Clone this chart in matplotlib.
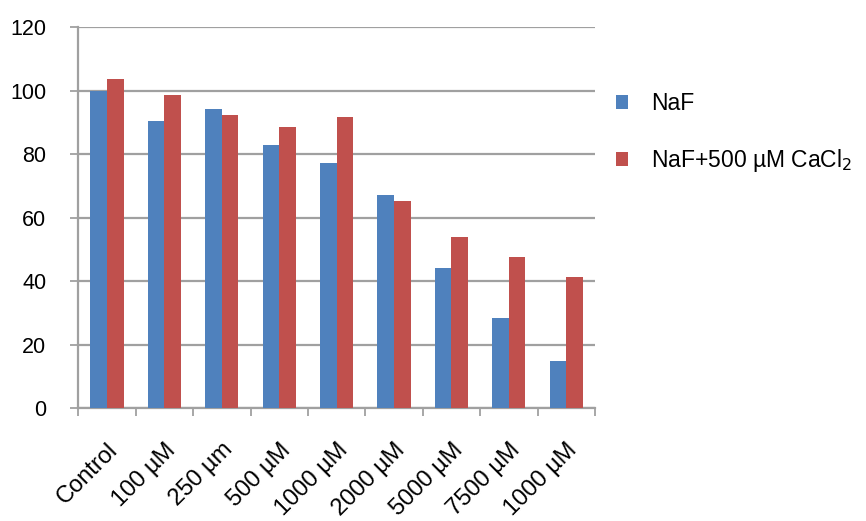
import matplotlib.pyplot as plt
import numpy as np

plt.rcParams['font.family'] = ['Liberation Sans', 'DejaVu Sans']

categories = ['Control', '100 µM', '250 µm', '500 µM', '1000 µM',
              '2000 µM', '5000 µM', '7500 µM', '1000 µM']
naf = [100, 90.5, 94.2, 82.9, 77.2, 67.3, 44.1, 28.3, 15.0]
naf_cacl2 = [103.6, 98.6, 92.3, 88.5, 91.7, 65.3, 53.9, 47.7, 41.5]

blue = '#4F81BD'
red = '#C0504D'
grid_col = '#a0a0a0'

fig = plt.figure(figsize=(8.66, 5.21), dpi=100)
ax = fig.add_axes([0.0904, 0.2163, 0.5966, 0.7313])

x = np.arange(len(categories))
w = 0.29
ax.bar(x - w / 2, naf, w, color=blue, label='NaF', zorder=3)
ax.bar(x + w / 2, naf_cacl2, w, color=red, label='NaF+500 µM CaCl$_2$', zorder=3)

ax.set_xlim(-0.5, len(categories) - 0.5)
ax.set_ylim(0, 120)
ax.set_yticks(range(0, 121, 20))
ax.yaxis.grid(True, color=grid_col, linewidth=1.6, zorder=0)
ax.set_axisbelow(True)

for s in ['top', 'right']:
    ax.spines[s].set_visible(False)
for s in ['left', 'bottom']:
    ax.spines[s].set_color(grid_col)
    ax.spines[s].set_linewidth(1.6)

# category separators on the x axis
ax.set_xticks(np.arange(-0.5, len(categories)), minor=False)
ax.set_xticklabels([])
ax.tick_params(axis='x', length=6, width=1.3, color=grid_col)
ax.set_xticks(x, minor=True)
ax.set_xticklabels(categories, minor=True, rotation=45, ha='right',
                   rotation_mode='anchor', fontsize=17)
ax.tick_params(axis='x', which='minor', length=0, pad=22)
ax.tick_params(axis='y', length=6, width=1.3, color=grid_col, pad=17,
               labelsize=15.5)

ax.legend(loc='upper left', bbox_to_anchor=(1.0, 0.885), frameon=False,
          fontsize=16.5, handlelength=0.56, handleheight=0.56, handletextpad=1.0,
          labelspacing=1.4)

fig.savefig('out.png', dpi=100)
